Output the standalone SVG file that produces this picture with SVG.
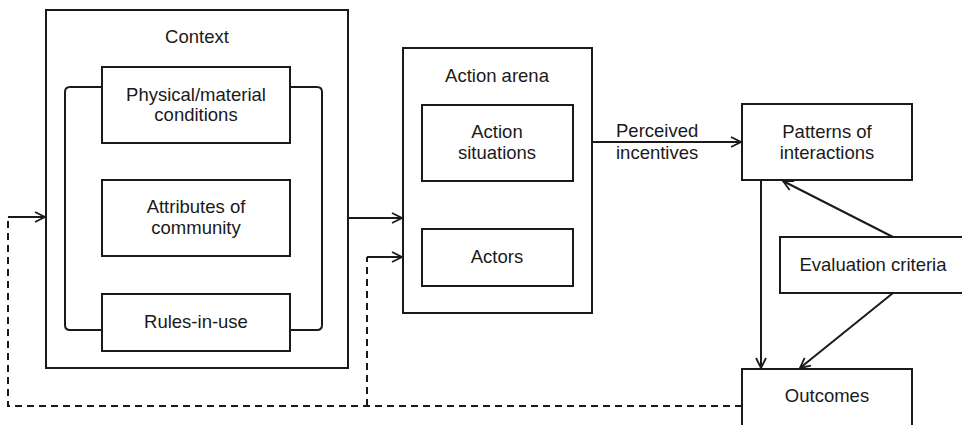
<svg xmlns="http://www.w3.org/2000/svg" width="962" height="425" viewBox="0 0 962 425">
<defs>
<marker id="arr" viewBox="0 0 12 12" refX="11" refY="6" markerWidth="12" markerHeight="12" markerUnits="userSpaceOnUse" orient="auto">
<path d="M1,1 L11,6 L1,11" fill="none" stroke="#1a1a1a" stroke-width="1.8"/>
</marker>
</defs>
<style>
rect{fill:#fff;stroke:#1a1a1a;stroke-width:2}
text{font-family:"Liberation Sans",Arial,sans-serif;font-size:18.5px;fill:#1a1a1a;text-anchor:middle}
.c{fill:none;stroke:#1a1a1a;stroke-width:2}
.d{fill:none;stroke:#1a1a1a;stroke-width:2;stroke-dasharray:7 5}
.l{text-anchor:start}
</style>
<rect x="0" y="0" width="962" height="425" style="stroke:none"/>
<g id="context">
<rect x="46" y="10" width="302" height="358"/>
<text x="197" y="43">Context</text>
<path class="c" d="M102,87 H70 Q65,87 65,92 V325 Q65,330 70,330 H102"/>
<path class="c" d="M290,87 H317 Q322,87 322,92 V325 Q322,330 317,330 H290"/>
</g>
<g id="physical">
<rect x="102" y="67" width="188" height="76"/>
<text x="196" y="101">Physical/material</text>
<text x="196" y="121">conditions</text>
</g>
<g id="attributes">
<rect x="102" y="180" width="188" height="76"/>
<text x="196" y="213">Attributes of</text>
<text x="196" y="234">community</text>
</g>
<g id="rules">
<rect x="102" y="294" width="188" height="57"/>
<text x="196" y="328">Rules-in-use</text>
</g>
<g id="arena">
<rect x="403" y="48" width="189" height="265"/>
<text x="497" y="82">Action arena</text>
</g>
<g id="situations">
<rect x="422" y="105" width="151" height="76"/>
<text x="497" y="138">Action</text>
<text x="497" y="159">situations</text>
</g>
<g id="actors">
<rect x="422" y="229" width="151" height="57"/>
<text x="497" y="263">Actors</text>
</g>
<g id="patterns">
<rect x="742" y="104" width="170" height="76"/>
<text x="827" y="138">Patterns of</text>
<text x="827" y="159">interactions</text>
</g>
<g id="evaluation">
<rect x="780" y="237" width="184" height="56"/>
<text x="873" y="271">Evaluation criteria</text>
</g>
<g id="outcomes">
<rect x="742" y="369" width="170" height="60"/>
<text x="827" y="402">Outcomes</text>
</g>
<g id="connectors">
<path class="c" d="M348,218 H402" marker-end="url(#arr)"/>
<path class="c" d="M592,142 H741" marker-end="url(#arr)"/>
<text class="l" x="616" y="137">Perceived</text>
<text class="l" x="616" y="159">incentives</text>
<path class="c" d="M761,180 V368" marker-end="url(#arr)"/>
<path class="c" d="M893,237 L783,181" marker-end="url(#arr)"/>
<path class="c" d="M893,293 L800,368" marker-end="url(#arr)"/>
<path class="d" d="M742,406 H8 V217"/>
<path class="c" d="M8,217 H45" marker-end="url(#arr)"/>
<path class="d" d="M367,406 V257"/>
<path class="c" d="M367,257 H402" marker-end="url(#arr)"/>
</g>
</svg>
